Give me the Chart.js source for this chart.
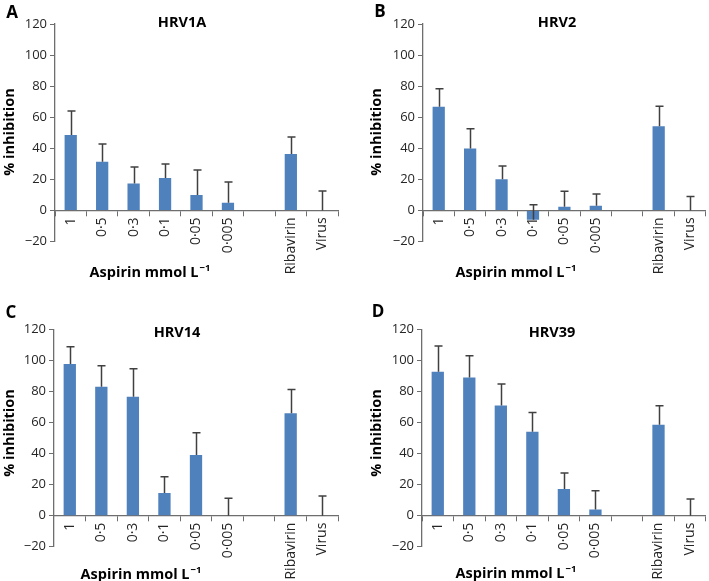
<!DOCTYPE html>
<html>
<head>
<meta charset="utf-8">
<script src="https://cdn.jsdelivr.net/npm/chart.js@4.4.0/dist/chart.umd.min.js"></script>
<style>
  html, body { margin: 0; padding: 0; background: #fff; }
  #wrap { position: relative; width: 709px; height: 581px; overflow: hidden; }
  #wrap canvas { position: absolute; }
</style>
</head>
<body>
<div id="wrap">
  <canvas id="chartA" width="354" height="290" style="left:0;top:0"></canvas>
  <canvas id="chartB" width="354" height="290" style="left:355px;top:0"></canvas>
  <canvas id="chartC" width="354" height="291" style="left:0;top:290px"></canvas>
  <canvas id="chartD" width="354" height="291" style="left:355px;top:290px"></canvas>
</div>
<script>
// Data
const categories = ['1', '0·5', '0·3', '0·1', '0·05', '0·005', '', 'Ribavirin', 'Virus'];

const hrv1aValues = [48.6, 31.4, 17.4, 20.9, 9.9, 4.9, null, 36.3, 0];
const hrv1aErrors = [15.4, 11.4, 10.6, 9.0, 16.1, 13.4, null, 11.0, 12.5];

const hrv2Values = [66.7, 39.8, 20.0, -6.0, 2.4, 3.0, null, 54.2, 0];
const hrv2Errors = [11.6, 12.7, 8.6, 9.7, 9.9, 7.5, null, 12.8, 9.0];

const hrv14Values = [97.6, 83.0, 76.6, 14.6, 39.0, 0, null, 65.9, 0];
const hrv14Errors = [11.2, 13.6, 18.0, 10.5, 14.4, 11.2, null, 15.4, 12.7];

const hrv39Values = [92.7, 89.0, 71.0, 54.0, 17.2, 3.9, null, 58.6, 0];
const hrv39Errors = [16.5, 14.0, 13.8, 12.5, 10.3, 12.2, null, 12.2, 10.7];

const yMin = -20;
const yMax = 120;
const yStep = 20;

const FONT = '"Open Sans", "DejaVu Sans", sans-serif';
const AXIS_COLOR = '#6e6e6e';
const LABEL_COLOR = '#262626';
const BAR_COLOR = '#4f81bd';
const ERR_COLOR = '#404040';

// Error bars + panel texts
const panelPlugin = {
    id: 'panelText',
    afterDatasetsDraw(chart, args, opts) {
        const ctx = chart.ctx;
        const yScale = chart.scales.y;
        const meta = chart.getDatasetMeta(0);
        const values = chart.data.datasets[0].data;

        ctx.save();
        ctx.strokeStyle = ERR_COLOR;
        ctx.lineWidth = 1.5;
        values.forEach((v, i) => {
            const err = opts.errors[i];
            if (v === null || err === null) return;
            const x = Math.round(meta.data[i].x) + 0.5;
            const y0 = yScale.getPixelForValue(v);
            const y1 = yScale.getPixelForValue(v + err);
            ctx.beginPath();
            ctx.moveTo(x, y0);
            ctx.lineTo(x, y1);
            ctx.moveTo(x - 4, y1);
            ctx.lineTo(x + 4, y1);
            ctx.stroke();
        });
        ctx.restore();
    },
    afterDraw(chart, args, opts) {
        const ctx = chart.ctx;
        ctx.save();
        ctx.fillStyle = '#000';
        ctx.textBaseline = 'middle';

        // panel letter
        ctx.font = 'bold 17px ' + FONT;
        ctx.textAlign = 'center';
        ctx.fillText(opts.letter, opts.letterPos[0], opts.letterPos[1]);

        // title
        ctx.font = 'bold 14.5px ' + FONT;
        ctx.fillText(opts.title, opts.titlePos[0], opts.titlePos[1]);

        // y title
        ctx.save();
        ctx.translate(opts.yTitlePos[0], opts.yTitlePos[1]);
        ctx.rotate(-Math.PI / 2);
        ctx.font = 'bold 14.5px ' + FONT;
        ctx.fillText('% inhibition', 0, 0);
        ctx.restore();

        // x title with superscript
        const main = 'Aspirin mmol L';
        const sup = '\u22121';
        ctx.font = 'bold 14.5px ' + FONT;
        const w1 = ctx.measureText(main).width;
        ctx.font = 'bold 9.5px ' + FONT;
        const w2 = ctx.measureText(sup).width;
        const x0 = opts.xTitlePos[0] - (w1 + w2 + 1) / 2;
        ctx.textAlign = 'left';
        ctx.font = 'bold 14.5px ' + FONT;
        ctx.fillText(main, x0, opts.xTitlePos[1]);
        ctx.font = 'bold 9.5px ' + FONT;
        ctx.fillText(sup, x0 + w1 + 1, opts.xTitlePos[1] - 5);
        ctx.restore();
    }
};

function makePanel(canvasId, values, errors, layout) {
    const ctx = document.getElementById(canvasId).getContext('2d');
    return new Chart(ctx, {
        type: 'bar',
        data: {
            labels: categories,
            datasets: [{
                data: values,
                backgroundColor: BAR_COLOR,
                borderWidth: 0,
                barPercentage: 0.39,
                categoryPercentage: 1.0
            }]
        },
        options: {
            responsive: false,
            animation: false,
            layout: { padding: layout.padding },
            plugins: {
                legend: { display: false },
                tooltip: { enabled: false },
                title: { display: false },
                panelText: {
                    errors: errors,
                    letter: layout.letter,
                    letterPos: layout.letterPos,
                    title: layout.title,
                    titlePos: layout.titlePos,
                    yTitlePos: layout.yTitlePos,
                    xTitlePos: layout.xTitlePos
                }
            },
            scales: {
                x: {
                    type: 'category',
                    position: { y: 0 },
                    grid: {
                        drawOnChartArea: false,
                        drawTicks: true,
                        tickLength: 5,
                        offset: true,
                        color: AXIS_COLOR,
                        lineWidth: 1
                    },
                    border: { display: true, color: AXIS_COLOR, width: 1.3 },
                    ticks: {
                        autoSkip: false,
                        minRotation: 90,
                        maxRotation: 90,
                        padding: 2,
                        color: LABEL_COLOR,
                        font: { family: FONT, size: 14 }
                    }
                },
                y: {
                    min: yMin,
                    max: yMax,
                    grid: {
                        drawOnChartArea: false,
                        drawTicks: true,
                        tickLength: 5,
                        color: AXIS_COLOR
                    },
                    border: { display: true, color: AXIS_COLOR, width: 1.3 },
                    ticks: {
                        stepSize: yStep,
                        padding: 3,
                        color: LABEL_COLOR,
                        font: { family: FONT, size: 13 },
                        callback: v => String(v).replace('-', '\u2212')
                    },
                    afterFit: scale => { scale.width = layout.yAxisWidth; }
                }
            }
        },
        plugins: [panelPlugin]
    });
}

makePanel('chartA', hrv1aValues, hrv1aErrors, {
    padding: { left: 0, top: 24, right: 16, bottom: 48.5 },
    yAxisWidth: 55,
    letter: 'A', letterPos: [12, 13],
    title: 'HRV1A', titlePos: [182, 23],
    yTitlePos: [10, 132],
    xTitlePos: [150, 273]
});

makePanel('chartB', hrv2Values, hrv2Errors, {
    padding: { left: 0, top: 24, right: 2, bottom: 48.5 },
    yAxisWidth: 68,
    letter: 'B', letterPos: [25, 12],
    title: 'HRV2', titlePos: [202, 23],
    yTitlePos: [22, 132],
    xTitlePos: [161, 273]
});

makePanel('chartC', hrv14Values, hrv14Errors, {
    padding: { left: 0, top: 39.3, right: 16, bottom: 34.3 },
    yAxisWidth: 54,
    letter: 'C', letterPos: [11, 23],
    title: 'HRV14', titlePos: [177, 43],
    yTitlePos: [10, 143],
    xTitlePos: [141, 285]
});

makePanel('chartD', hrv39Values, hrv39Errors, {
    padding: { left: 0, top: 39.3, right: 3, bottom: 34.3 },
    yAxisWidth: 67,
    letter: 'D', letterPos: [23, 22],
    title: 'HRV39', titlePos: [197, 43],
    yTitlePos: [22, 143],
    xTitlePos: [161, 284]
});
</script>
</body>
</html>
